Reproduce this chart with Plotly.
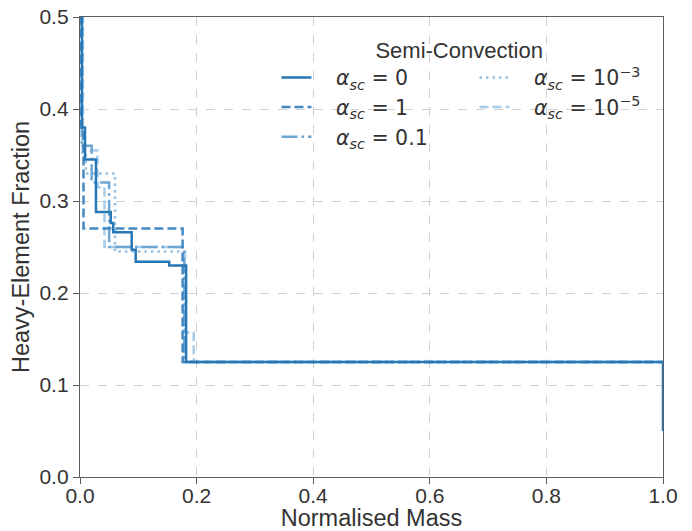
import plotly.graph_objects as go

# Step profiles (normalised mass breakpoints, heavy-element fraction)
PAD = "\u00a0\u00a0\u00a0"
labels = [
    PAD + "<i>α</i><sub><i>sc</i></sub> = 0",
    PAD + "<i>α</i><sub><i>sc</i></sub> = 1",
    PAD + "<i>α</i><sub><i>sc</i></sub> = 0.1",
    PAD + "<i>α</i><sub><i>sc</i></sub> = 10<sup>−3</sup>",
    PAD + "<i>α</i><sub><i>sc</i></sub> = 10<sup>−5</sup>",
]

x_a0 = [0.0, 0.0034, 0.0086, 0.0274, 0.0527, 0.057, 0.0887, 0.0955, 0.153, 0.182, 1.0, 1.0]
y_a0 = [0.5, 0.38, 0.345, 0.288, 0.276, 0.266, 0.247, 0.234, 0.230, 0.125, 0.125, 0.05]

x_a1 = [0.0, 0.002, 0.006, 0.176, 1.0]
y_a1 = [0.5, 0.38, 0.27, 0.125, 0.125]

x_a01 = [0.0, 0.003, 0.02, 0.05, 0.179, 1.0]
y_a01 = [0.5, 0.36, 0.32, 0.25, 0.125, 0.125]

x_a3 = [0.0, 0.004, 0.01, 0.06, 0.178, 1.0]
y_a3 = [0.5, 0.35, 0.33, 0.245, 0.125, 0.125]

x_a5 = [0.0, 0.005, 0.03, 0.042, 0.18, 0.195, 1.0]
y_a5 = [0.5, 0.355, 0.315, 0.25, 0.157, 0.125, 0.125]

xs = [x_a0, x_a1, x_a01, x_a3, x_a5]
ys = [y_a0, y_a1, y_a01, y_a3, y_a5]
colors = ["#2777b4", "#4589c2", "#6ea6d2", "#93c0e3", "#a7cdea"]
dashes = ["solid", "9px,4px", "16px,4px,2.5px,4px", "2.5px,4px", "9px,4px"]
ranks = [1, 3, 5, 2, 4]

fig = go.Figure()
order = [4, 3, 2, 1, 0]
for i in order:
    fig.add_trace(go.Scatter(
        x=xs[i], y=ys[i], mode="lines", line_shape="hv",
        line=dict(color=colors[i], width=2.5, dash=dashes[i]),
        name=labels[i], legendrank=ranks[i],
    ))

FONT = "Liberation Sans, Arial, sans-serif"
axis_common = dict(
    showline=True, mirror=True, linecolor="#5a5f66", linewidth=1.3,
    ticks="outside", ticklen=6, tickwidth=1.3, tickcolor="#5a5f66",
    showgrid=True, gridcolor="#d0d0d0", griddash="dash", gridwidth=1,
    zeroline=False, automargin=False, ticklabeloverflow="allow",
    tickfont=dict(family=FONT, size=21, color="#333333"),
)

fig.update_layout(
    width=684, height=523,
    margin=dict(l=72, r=29, t=9, b=54),
    paper_bgcolor="white", plot_bgcolor="white",
    font=dict(family=FONT, color="#333333"),
    xaxis=dict(range=[0, 1], tickvals=[0, 0.2, 0.4, 0.6, 0.8, 1.0],
               ticktext=["0.0", "0.2", "0.4", "0.6", "0.8", "1.0"],
               ticklabelstandoff=-6,
               title=dict(text="Normalised Mass", font=dict(size=23.5), standoff=0),
               **axis_common),
    yaxis=dict(range=[0, 0.5], tickvals=[0, 0.1, 0.2, 0.3, 0.4, 0.5],
               ticktext=["0.0", "0.1", "0.2", "0.3", "0.4", "0.5"],
               title=dict(text="Heavy-Element Fraction", font=dict(size=23.5), standoff=6),
               **axis_common),
    legend=dict(
        orientation="h", x=0.337, y=0.974, xanchor="left", yanchor="top",
        entrywidth=153, entrywidthmode="pixels",
        bgcolor="rgba(0,0,0,0)", borderwidth=0,
        font=dict(family="DejaVu Sans", size=20.5, color="#333333"),
        title=dict(text="Semi-Convection" + "\u00a0" * 5, side="top center",
                   font=dict(family=FONT, size=22, color="#333333")),
        tracegroupgap=0,
    ),
)

fig.write_html("out.html")
